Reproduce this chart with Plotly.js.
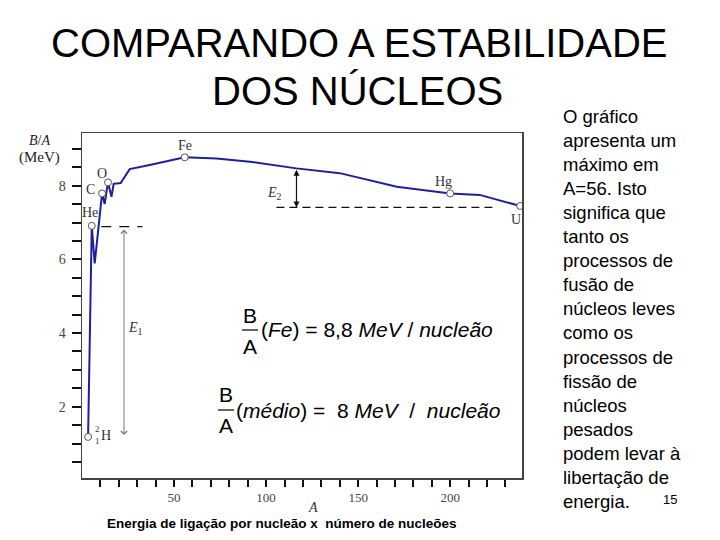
<!DOCTYPE html>
<html><head><meta charset="utf-8">
<script src="https://cdn.plot.ly/plotly-3.0.1.min.js"></script>
<style>html,body{margin:0;padding:0;background:#fff}#chart{width:720px;height:540px}</style>
</head><body><div id="chart"></div>
<script>
// ---- data ----
const massNumber = [3.3, 5.3, 6.9, 10.9, 12.3, 14.1, 16.0, 17.2, 21.0, 25.9, 36.8, 45.0, 55.8, 73.0, 91.2, 116.5, 140.0, 171.0, 200.0, 216.0, 238.0];
const bindingPerNucleon = [1.18, 6.91, 5.89, 7.79, 7.50, 8.09, 7.70, 8.05, 8.07, 8.45, 8.56, 8.65, 8.77, 8.74, 8.65, 8.47, 8.34, 7.97, 7.79, 7.75, 7.45];
const nuclideNames = ['²H', 'He', 'C', 'O', 'Fe', 'Hg', 'U'];
const nuclideA = [3.3, 5.3, 10.9, 14.1, 55.8, 200, 238];
const nuclideBA = [1.18, 6.91, 7.79, 8.09, 8.77, 7.79, 7.45];
const yTickVals = [0.5,1,1.5,2,2.5,3,3.5,4,4.5,5,5.5,6,6.5,7,7.5,8,8.5,9];
const yTickText = ['','','','2','','','','4','','','','6','','','','8','',''];
const xTickVals = [10,20,30,40,50,60,70,80,90,100,110,120,130,140,150,160,170,180,190,200,210,220,230];
const xTickText = ['','','','','50','','','','','100','','','','','150','','','','','200','','',''];
const heliumLevel = 6.89;      // dashed line at He level (E1)
const heliumLevelA = [10.5, 32.8];
const e1ArrowA = 22.8;
const e1ArrowBA = [6.85, 1.23];
const heavyLevel = 7.41;       // dashed line (E2)
const heavyLevelA = [105.6, 224.6];
const e2ArrowA = 116.5;
const e2ArrowBA = [8.47, 7.41];
const titleLines = ['COMPARANDO A ESTABILIDADE', 'DOS NÚCLEOS'];
const sideText = ['O gráfico','apresenta um','máximo em','A=56. Isto','significa que','tanto os','processos de','fusão de','núcleos leves','como os','processos de','fissão de','núcleos','pesados','podem levar à','libertação de','energia.'];
const caption = 'Energia de ligação por nucleão x&nbsp; número de nucleões';

const SANS = 'Arial, "Liberation Sans", sans-serif';
const SERIF = '"Times New Roman", "Liberation Serif", serif';
const px = v => v / 720;
const py = v => 1 - v / 540;

const traces = [
  {x: massNumber, y: bindingPerNucleon, mode: 'lines', type: 'scatter',
   line: {color: '#1f1f9e', width: 2}, hoverinfo: 'skip', showlegend: false},
  {x: nuclideA, y: nuclideBA, mode: 'markers', type: 'scatter', text: nuclideNames,
   marker: {size: 7, color: '#ffffff', line: {color: '#555', width: 1}}, showlegend: false}
];

const lbl = (text, x, y, size, extra) => Object.assign({text, x, y, xref: 'x', yref: 'y', showarrow: false,
  xanchor: 'center', yanchor: 'middle',
  font: {family: SERIF, size: size || 14, color: '#333'}}, extra || {});
const pap = (text, x, y, font, extra) => Object.assign({text, x: px(x), y: py(y), xref: 'paper', yref: 'paper',
  showarrow: false, xanchor: 'center', yanchor: 'middle', font: Object.assign({}, font)}, extra || {});

const fFont = {family: SANS, size: 21, color: '#000'};
const annotations = [
  // title
  pap(titleLines[0], 359, 43, {family: SANS, size: 40, color: '#000'}),
  pap(titleLines[1], 357, 91, {family: SANS, size: 40, color: '#000'}),
  // nuclide labels
  lbl('Fe', 55.9, 9.10), lbl('Hg', 196.2, 8.11), lbl('U', 236, 7.07),
  lbl('He', 4.2, 7.27), lbl('C', 4.5, 7.90), lbl('O', 10.9, 8.34),
  lbl('H', 13.0, 1.23), lbl('2', 8.6, 1.40, 9), lbl('1', 8.6, 1.08, 9),
  lbl('<i>E</i><sub>2</sub>', 104.7, 7.79), lbl('<i>E</i><sub>1</sub>', 29.0, 4.13),
  // arrows
  {x: e1ArrowA, y: e1ArrowBA[1], ax: e1ArrowA, ay: e1ArrowBA[0], xref: 'x', yref: 'y', axref: 'x', ayref: 'y',
   text: '', showarrow: true, arrowhead: 4, startarrowhead: 4, arrowside: 'end+start', arrowsize: 1.2, startarrowsize: 1.2,
   arrowwidth: 1, arrowcolor: '#777', standoff: 0, startstandoff: 0},
  {x: e2ArrowA, y: e2ArrowBA[1], ax: e2ArrowA, ay: e2ArrowBA[0], xref: 'x', yref: 'y', axref: 'x', ayref: 'y',
   text: '', showarrow: true, arrowhead: 2, startarrowhead: 2, arrowside: 'end+start', arrowsize: 1, startarrowsize: 1,
   arrowwidth: 1.2, arrowcolor: '#111', standoff: 0, startstandoff: 0},
  // axis titles
  pap('<i>B</i>/<i>A</i>', 39, 141, {family: SERIF, size: 14, color: '#222'}),
  pap('(MeV)', 39, 158, {family: SERIF, size: 15, color: '#222'}),
  pap('<i>A</i>', 313, 507, {family: SERIF, size: 14, color: '#333'}),
  // formulas
  pap('B', 250, 315, fFont), pap('A', 250, 346, fFont),
  pap('(<i>Fe</i>) = 8,8 <i>MeV</i> / <i>nucleão</i>', 259, 329, fFont, {xanchor: 'left'}),
  pap('B', 226, 394, fFont), pap('A', 226, 425, fFont),
  pap('(<i>médio</i>)&nbsp;=&nbsp; 8 <i>MeV</i>&nbsp; /&nbsp; <i>nucleão</i>', 234, 410, fFont, {xanchor: 'left'}),
  // side text
  pap(sideText.join('<br>'), 561, 104, {family: SANS, size: 18.5, color: '#000'}, {xanchor: 'left', yanchor: 'top', align: 'left'}),
  pap('15', 670, 499, {family: SANS, size: 13, color: '#000'}),
  // caption
  pap('<b>' + caption + '</b>', 282, 523, {family: SANS, size: 13.5, color: '#000'})
];

const shapes = [
  {type: 'line', xref: 'x', yref: 'y', x0: heliumLevelA[0], x1: heliumLevelA[1], y0: heliumLevel, y1: heliumLevel,
   line: {color: '#111', width: 1.2, dash: '10px,8px'}},
  {type: 'line', xref: 'x', yref: 'y', x0: heavyLevelA[0], x1: heavyLevelA[1], y0: heavyLevel, y1: heavyLevel,
   line: {color: '#111', width: 1.3, dash: '8px,5px'}},
  {type: 'line', xref: 'paper', yref: 'paper', x0: px(242), x1: px(258), y0: py(330), y1: py(330), line: {color: '#000', width: 1.2}},
  {type: 'line', xref: 'paper', yref: 'paper', x0: px(218), x1: px(234), y0: py(410), y1: py(410), line: {color: '#000', width: 1.2}}
];

const layout = {
  width: 720, height: 540, margin: {l: 0, r: 0, t: 0, b: 0},
  paper_bgcolor: '#fff', plot_bgcolor: '#fff',
  xaxis: {domain: [82 / 720, 522 / 720], range: [0, 239], showgrid: false, zeroline: false,
          showline: true, mirror: true, linecolor: '#444', linewidth: 1.5,
          ticks: 'outside', ticklen: 7, tickwidth: 2, tickcolor: '#111',
          tickmode: 'array', tickvals: xTickVals, ticktext: xTickText,
          tickfont: {family: SERIF, size: 13, color: '#444'}},
  yaxis: {domain: [1 - 478 / 540, 1 - 133 / 540], range: [0.065, 9.43], showgrid: false, zeroline: false,
          showline: true, mirror: true, linecolor: '#444', linewidth: 1.5,
          ticks: 'outside', ticklen: 9, tickwidth: 2, tickcolor: '#111', ticklabelstandoff: 3,
          tickmode: 'array', tickvals: yTickVals, ticktext: yTickText,
          tickfont: {family: SERIF, size: 14, color: '#444'}},
  annotations, shapes, hovermode: false
};

Plotly.newPlot('chart', traces, layout, {displayModeBar: false, staticPlot: true});
</script>
</body></html>
